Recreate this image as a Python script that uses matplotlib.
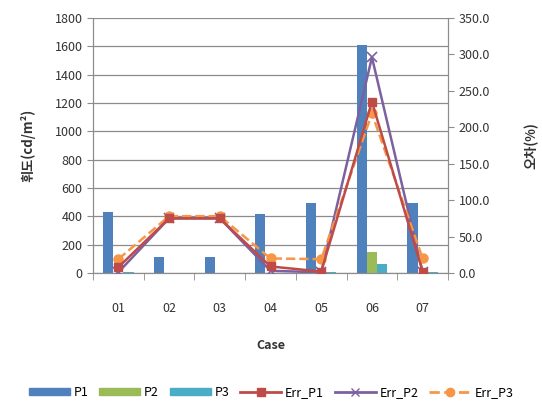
import numpy as np
import matplotlib
matplotlib.use("Agg")
import matplotlib.pyplot as plt
from matplotlib.patches import Patch
from matplotlib.lines import Line2D

plt.rcParams['font.family'] = ['Noto Sans CJK KR', 'DejaVu Sans']

# data
cases = ['01', '02', '03', '04', '05', '06', '07']
p1 = [428, 110, 110, 420, 495, 1612, 495]
p2 = [0, 0, 0, 0, 0, 150, 0]
p3 = [10, 0, 0, 3, 5, 61, 10]
err_p1 = [8, 75, 75, 9, 2, 235, 2]
err_p2 = [1, 75, 75, 3, 1, 296, 1]
err_p3 = [19, 78, 78, 20, 19, 219, 20]

c_p1 = '#4F81BD'
c_p2 = '#9BBB59'
c_p3 = '#4BACC6'
c_e1 = '#BE4B48'
c_e2 = '#7D60A0'
c_e3 = '#F79646'

fig = plt.figure(figsize=(5.42, 4.05), dpi=100)
ax = fig.add_axes([0.1716, 0.3259, 0.655, 0.6297])
ax2 = ax.twinx()

x = np.arange(len(cases))
w = 0.2
ax.bar(x - w, p1, w, color=c_p1, zorder=2)
ax.bar(x, p2, w, color=c_p2, zorder=2)
ax.bar(x + w, p3, w, color=c_p3, zorder=2)

ax.set_xlim(-0.5, len(cases) - 0.5)
ax.set_ylim(0, 1800)
ax.set_yticks(range(0, 1801, 200))
ax.grid(axis='y', color='#8c8c8c', linewidth=0.9, zorder=0)
ax.set_axisbelow(True)

ax2.plot(x, err_p1, color=c_e1, lw=1.8, marker='s', ms=6, zorder=4)
ax2.plot(x, err_p2, color=c_e2, lw=1.8, marker='x', ms=7, mew=1.2, zorder=3)
ax2.plot(x, err_p3, color=c_e3, lw=1.8, ls='--', marker='o', ms=6.5, zorder=3)
ax2.set_ylim(0, 350)
ax2.set_yticks(range(0, 351, 50))
ax2.set_yticklabels([f'{v:.1f}' for v in range(0, 351, 50)])

for a in (ax, ax2):
    a.spines['top'].set_visible(False)
    a.spines['left'].set_color('#8c8c8c')
    a.spines['right'].set_color('#8c8c8c')
    a.spines['bottom'].set_color('#8c8c8c')
    a.tick_params(axis='y', colors='#8c8c8c', labelcolor='#333333', labelsize=9, length=4)

ax.set_xticks(x)
ax.set_xticklabels(cases)
ax.set_xticks(np.arange(-0.5, len(cases)), minor=True)
ax.tick_params(axis='x', which='major', length=0, pad=21, labelsize=9, labelcolor='#333333')
ax.tick_params(axis='x', which='minor', length=5, color='#8c8c8c')

ax.set_xlabel('Case', fontsize=9, fontweight='bold', labelpad=17, color='#333333')
ax.set_ylabel('휘도(cd/m²)', fontsize=9.5, fontweight='bold', labelpad=14, color='#333333')
ax2.set_ylabel('오차(%)', fontsize=9.5, fontweight='bold', labelpad=25, color='#333333', rotation=90)

handles = [
    Patch(color=c_p1), Patch(color=c_p2), Patch(color=c_p3),
    Line2D([], [], color=c_e1, lw=2, marker='s', ms=6),
    Line2D([], [], color=c_e2, lw=2, marker='x', ms=6),
    Line2D([], [], color=c_e3, lw=2, ls='--', marker='o', ms=6),
]
labels = ['P1', 'P2', 'P3', 'Err_P1', 'Err_P2', 'Err_P3']
fig.legend(handles, labels, loc='center', bbox_to_anchor=(0.5, 0.03), ncol=6,
           frameon=False, fontsize=9, handlelength=3.3, handleheight=0.5,
           handletextpad=0.3, columnspacing=0.85)

fig.savefig('out.png', dpi=100)
